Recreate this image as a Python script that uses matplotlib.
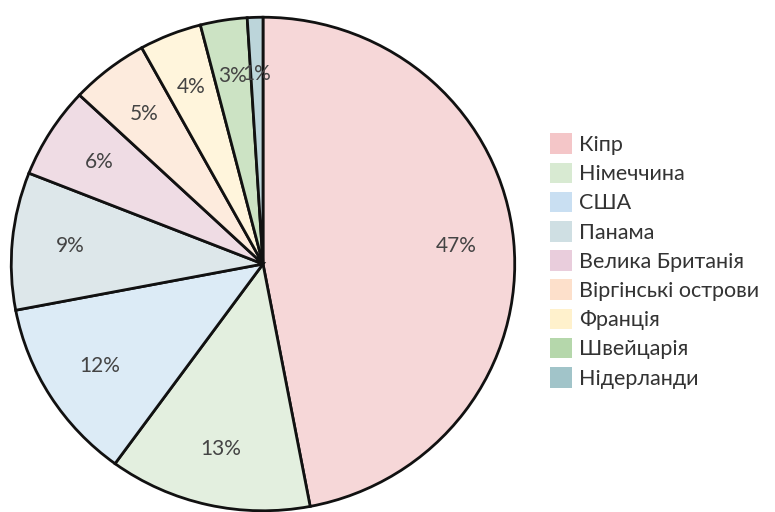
import matplotlib.pyplot as plt
from matplotlib.patches import Patch

countries = ['Кіпр', 'Німеччина', 'США', 'Панама', 'Велика Британія',
             'Віргінські острови', 'Франція', 'Швейцарія', 'Нідерланди']
shares = [47, 13, 12, 9, 6, 5, 4, 3, 1]
legend_colors = ['#f4c6c8', '#d8ead2', '#c9dff2', '#cfdfe3', '#e9cddc',
                 '#fde0cb', '#fff1cc', '#b5d7ab', '#a1c4c9']
slice_colors = ['#f6d7d8', '#e3efdf', '#dcebf6', '#dde7ea', '#efdce4',
                '#fdebdd', '#fff5dc', '#cce3c4', '#bcd5da']

plt.rcParams['font.family'] = ['Lato', 'DejaVu Sans']

fig = plt.figure(figsize=(7.75, 5.12), dpi=100)
ax = fig.add_axes([10 / 775, 0 / 512, 506 / 775, 496 / 512])

wedges, texts, autotexts = ax.pie(
    shares, colors=slice_colors, startangle=90, counterclock=False,
    autopct='%d%%', pctdistance=0.77,
    wedgeprops=dict(edgecolor='#111111', linewidth=2),
    textprops=dict(fontsize=15, color='#444444'))
ax.set_aspect('auto')
ax.set_xlim(-1.005, 1.005)
ax.set_ylim(-1.005, 1.005)

handles = [Patch(facecolor=c, edgecolor='none') for c in legend_colors]
fig.legend(handles, countries, loc='upper left', bbox_to_anchor=(531 / 775, 1 - 114 / 512),
           frameon=False, fontsize=15.5, handlelength=1.0, handleheight=1.1,
           handletextpad=0.35, labelspacing=0.35, labelcolor='#333333')

fig.savefig('out.png', dpi=100)
